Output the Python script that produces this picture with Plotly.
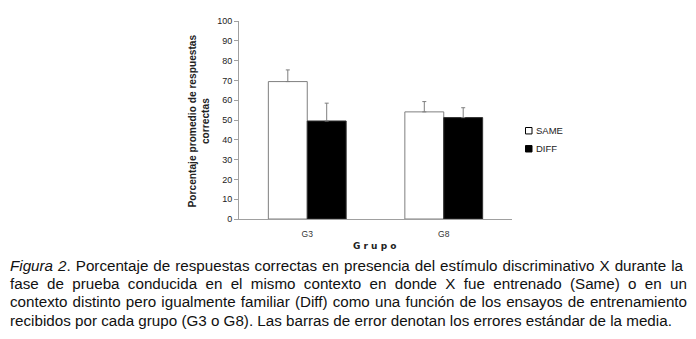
import json
import plotly.graph_objects as go

groups = ["G3", "G8"]
same_vals = [69.4, 54.1]
same_err = [5.9, 5.2]
diff_vals = [49.5, 51.2]
diff_err = [9.0, 5.0]
y_ticks = list(range(0, 101, 10))
series_names = ["SAME", "DIFF"]

caption_lines = [
    "<i>Figura 2</i>. Porcentaje de respuestas correctas en presencia del estímulo discriminativo X durante la",
    "fase de prueba conducida en el mismo contexto en donde X fue entrenado (Same) o en un",
    "contexto distinto pero igualmente familiar (Diff) como una función de los ensayos de entrenamiento",
    "recibidos por cada grupo (G3 o G8). Las barras de error denotan los errores estándar de la media.",
]
caption_justify = [673, 677, 677, None]

W, H = 696, 339
OFF = 8  # page body margin
L, R, T, B = 239, 512, 16, 219  # plot area in page pixels

fig = go.Figure()
fig.add_trace(go.Bar(
    x=groups, y=same_vals, name=series_names[0], showlegend=False,
    marker=dict(color="white", line=dict(color="#7f7f7f", width=1)),
    error_y=dict(type="data", array=same_err, arrayminus=[0, 0], symmetric=False,
                 color="#7f7f7f", thickness=1, width=2),
))
fig.add_trace(go.Bar(
    x=groups, y=diff_vals, name=series_names[1], showlegend=False,
    marker=dict(color="black", line=dict(color="#303030", width=1)),
    error_y=dict(type="data", array=diff_err, arrayminus=[0, 0], symmetric=False,
                 color="#7f7f7f", thickness=1, width=2),
))


def px_x(p):
    return (p - L) / (R - L)


def px_y(p):
    return (B - p) / (B - T)


annotations = []
shapes = []
ys = [266.5, 285.5, 304, 323]
for line, yy in zip(caption_lines, ys):
    annotations.append(dict(
        text=line, xref="paper", yref="paper", x=px_x(8), y=px_y(yy),
        xanchor="left", yanchor="middle", align="left", showarrow=False,
        font=dict(family="Liberation Sans, Arial", size=15.2, color="#111"),
    ))
annotations.append(dict(
    text="<b>G r u p o</b>", xref="paper", yref="paper", x=px_x(374), y=px_y(247),
    xanchor="center", yanchor="middle", showarrow=False,
    font=dict(family="DejaVu Sans", size=9, color="#222"),
))
annotations.append(dict(
    text="<b>Porcentaje promedio de respuestas<br>correctas</b>", xref="paper", yref="paper",
    x=px_x(198.5), y=px_y(118.5), xanchor="center", yanchor="middle", showarrow=False,
    textangle=-90, font=dict(family="Liberation Sans, Arial", size=10.2, color="#222"),
))

# legend (drawn manually to match compact layout)
leg_fill = ["white", "black"]
leg_y = [128.5, 147]
for name, fill, yy in zip(series_names, leg_fill, leg_y):
    shapes.append(dict(type="rect", xref="paper", yref="paper",
                       x0=px_x(525.5), x1=px_x(532), y0=px_y(yy - 3.3), y1=px_y(yy + 3.3),
                       fillcolor=fill, line=dict(color="black", width=1)))
    annotations.append(dict(
        text=name, xref="paper", yref="paper", x=px_x(534), y=px_y(yy),
        xanchor="left", yanchor="middle", showarrow=False,
        font=dict(family="Liberation Sans Narrow, Arial Narrow, Liberation Sans", size=9.5, color="#222"),
    ))

fig.update_layout(
    width=W, height=H,
    margin=dict(l=L - OFF, r=W - (R - OFF), t=T - OFF, b=H - (B - OFF), pad=0),
    paper_bgcolor="white", plot_bgcolor="white",
    barmode="group", bargap=0.43, bargroupgap=0,
    showlegend=False,
    xaxis=dict(showline=True, linecolor="#a0a0a0", linewidth=1,
               ticks="outside", ticklen=7, tickcolor="rgba(0,0,0,0)",
               tickfont=dict(family="Liberation Sans, Arial", size=8.5, color="#333"),
               showgrid=False, zeroline=False),
    yaxis=dict(range=[0, 100], tickvals=y_ticks, showline=True, linecolor="#a0a0a0",
               linewidth=1, ticks="outside", ticklen=4, tickcolor="#a0a0a0",
               tickfont=dict(family="Liberation Sans, Arial", size=9, color="#222"),
               showgrid=False, zeroline=False),
    annotations=annotations,
    shapes=shapes,
)

starts = [json.dumps(l.replace("<i>", "").replace("</i>", "")[:14]) for l in caption_lines]
pairs = ",".join("[%s,%s]" % (s, "null" if w is None else w) for s, w in zip(starts, caption_justify))
post = """
var gd = document.getElementById('{plot_id}');
var JUST = [%s];
function justify(){
  gd.querySelectorAll('text.annotation-text').forEach(function(t){
    var s = t.textContent;
    for (var i=0;i<JUST.length;i++){
      if (JUST[i][1]!==null && s.indexOf(JUST[i][0])===0){
        t.style.wordSpacing = '0px';
        var len = t.getComputedTextLength();
        var n = (s.match(/ /g)||[]).length;
        if (n>0) t.style.wordSpacing = ((JUST[i][1]-len)/n) + 'px';
      }
    }
  });
}
justify();
gd.on('plotly_afterplot', justify);
""" % pairs

fig.write_html("out.html", post_script=post)
